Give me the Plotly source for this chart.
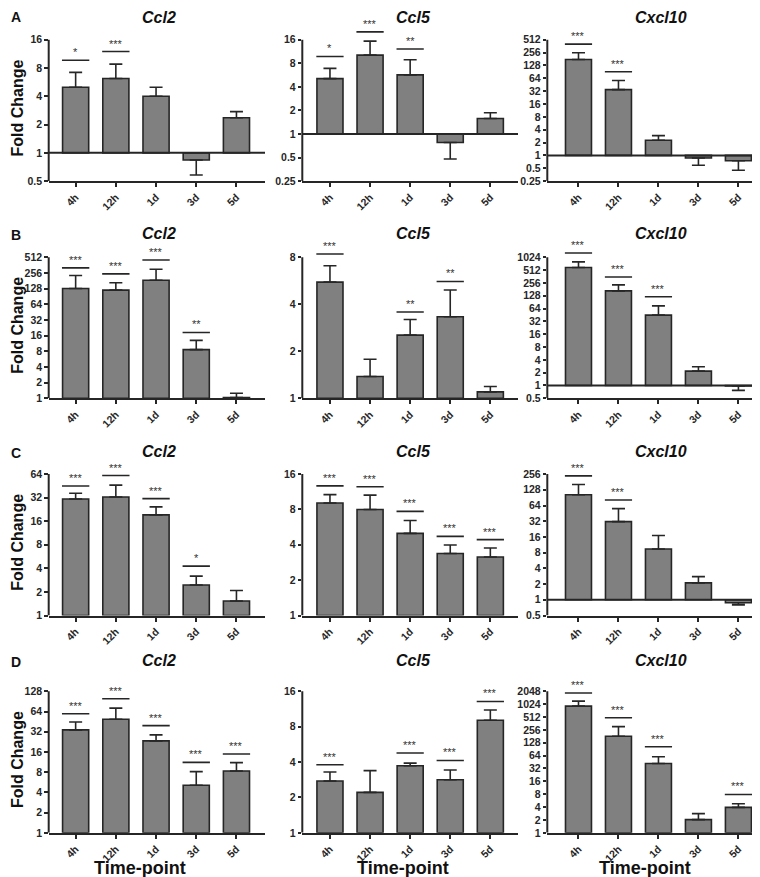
import numpy as np
import plotly.graph_objects as go

timepoints = ["4h", "12h", "1d", "3d", "5d"]
panel_letters = ["A", "B", "C", "D"]
genes = ["Ccl2", "Ccl5", "Cxcl10"]

# ---------------- Row A ----------------
a_ccl2_fc = [5.0, 6.2, 4.0, 0.84, 2.36]
a_ccl2_err = [7.2, 8.8, 5.0, 0.58, 2.75]
a_ccl2_stars = ["*", "***", "", "", ""]
a_ccl2_sig = [9.7, 12.0, None, None, None]
a_ccl2_ticks = [0.5, 1, 2, 4, 8, 16]

a_ccl5_fc = [5.1, 10.2, 5.7, 0.78, 1.58]
a_ccl5_err = [6.9, 15.4, 8.9, 0.48, 1.87]
a_ccl5_stars = ["*", "***", "**", "", ""]
a_ccl5_sig = [9.8, 20.2, 12.2, None, None]
a_ccl5_ticks = [0.25, 0.5, 1, 2, 4, 8, 16]

a_cxcl10_fc = [176, 34.7, 2.27, 0.87, 0.75]
a_cxcl10_err = [255, 57, 2.91, 0.59, 0.45]
a_cxcl10_stars = ["***", "***", "", "", ""]
a_cxcl10_sig = [405, 91, None, None, None]
a_cxcl10_ticks = [0.25, 0.5, 1, 2, 4, 8, 16, 32, 64, 128, 256, 512]

# ---------------- Row B ----------------
b_ccl2_fc = [129, 120, 186, 8.6, 1.03]
b_ccl2_err = [229, 166, 302, 13.0, 1.25]
b_ccl2_stars = ["***", "***", "***", "**", ""]
b_ccl2_sig = [320, 246, 455, 18.4, None]
b_ccl2_ticks = [1, 2, 4, 8, 16, 32, 64, 128, 256, 512]

b_ccl5_fc = [5.55, 1.38, 2.54, 3.33, 1.10]
b_ccl5_err = [7.06, 1.78, 3.2, 4.94, 1.19]
b_ccl5_stars = ["***", "", "**", "**", ""]
b_ccl5_sig = [8.4, None, 3.57, 5.6, None]
b_ccl5_ticks = [1, 2, 4, 8]

b_cxcl10_fc = [591, 167, 45, 2.18, 0.97]
b_cxcl10_err = [798, 230, 74, 2.75, 0.77]
b_cxcl10_stars = ["***", "***", "***", "", ""]
b_cxcl10_sig = [1290, 352, 121, None, None]
b_cxcl10_ticks = [0.5, 1, 2, 4, 8, 16, 32, 64, 128, 256, 512, 1024]

# ---------------- Row C ----------------
c_ccl2_fc = [30.8, 32.6, 19.3, 2.45, 1.53]
c_ccl2_err = [36.4, 46.3, 24.4, 3.18, 2.09]
c_ccl2_stars = ["***", "***", "***", "*", ""]
c_ccl2_sig = [45, 61.4, 31.1, 4.27, None]
c_ccl2_ticks = [1, 2, 4, 8, 16, 32, 64]

c_ccl5_fc = [9.09, 8.0, 5.0, 3.37, 3.15]
c_ccl5_err = [10.7, 10.6, 6.45, 3.99, 3.76]
c_ccl5_stars = ["***", "***", "***", "***", "***"]
c_ccl5_sig = [12.7, 12.5, 7.7, 4.72, 4.43]
c_ccl5_ticks = [1, 2, 4, 8, 16]

c_cxcl10_fc = [103, 31.5, 9.4, 2.11, 0.88]
c_cxcl10_err = [162, 55.8, 17.1, 2.78, 0.80]
c_cxcl10_stars = ["***", "***", "", "", ""]
c_cxcl10_sig = [237, 81.6, None, None, None]
c_cxcl10_ticks = [0.5, 1, 2, 4, 8, 16, 32, 64, 128, 256]

# ---------------- Row D ----------------
d_ccl2_fc = [34.1, 49, 23.4, 5.12, 8.34]
d_ccl2_err = [44.7, 72, 28.7, 8.15, 11.1]
d_ccl2_stars = ["***", "***", "***", "***", "***"]
d_ccl2_sig = [59.4, 99, 39.5, 11.2, 14.9]
d_ccl2_ticks = [1, 2, 4, 8, 16, 32, 64, 128]

d_ccl5_fc = [2.76, 2.21, 3.72, 2.83, 9.08]
d_ccl5_err = [3.29, 3.38, 3.92, 3.42, 11.1]
d_ccl5_stars = ["***", "", "***", "***", "***"]
d_ccl5_sig = [3.8, None, 4.77, 4.13, 13.1]
d_ccl5_ticks = [1, 2, 4, 8, 16]

d_cxcl10_fc = [920, 182, 42, 2.04, 3.94]
d_cxcl10_err = [1203, 305, 60, 2.81, 4.8]
d_cxcl10_stars = ["***", "***", "***", "", "***"]
d_cxcl10_sig = [1875, 493, 103, None, 7.9]
d_cxcl10_ticks = [1, 2, 4, 8, 16, 32, 64, 128, 256, 512, 1024, 2048]

panels = [
    [(a_ccl2_fc, a_ccl2_err, a_ccl2_stars, a_ccl2_sig, a_ccl2_ticks),
     (a_ccl5_fc, a_ccl5_err, a_ccl5_stars, a_ccl5_sig, a_ccl5_ticks),
     (a_cxcl10_fc, a_cxcl10_err, a_cxcl10_stars, a_cxcl10_sig, a_cxcl10_ticks)],
    [(b_ccl2_fc, b_ccl2_err, b_ccl2_stars, b_ccl2_sig, b_ccl2_ticks),
     (b_ccl5_fc, b_ccl5_err, b_ccl5_stars, b_ccl5_sig, b_ccl5_ticks),
     (b_cxcl10_fc, b_cxcl10_err, b_cxcl10_stars, b_cxcl10_sig, b_cxcl10_ticks)],
    [(c_ccl2_fc, c_ccl2_err, c_ccl2_stars, c_ccl2_sig, c_ccl2_ticks),
     (c_ccl5_fc, c_ccl5_err, c_ccl5_stars, c_ccl5_sig, c_ccl5_ticks),
     (c_cxcl10_fc, c_cxcl10_err, c_cxcl10_stars, c_cxcl10_sig, c_cxcl10_ticks)],
    [(d_ccl2_fc, d_ccl2_err, d_ccl2_stars, d_ccl2_sig, d_ccl2_ticks),
     (d_ccl5_fc, d_ccl5_err, d_ccl5_stars, d_ccl5_sig, d_ccl5_ticks),
     (d_cxcl10_fc, d_cxcl10_err, d_cxcl10_stars, d_cxcl10_sig, d_cxcl10_ticks)],
]

# ---------------- layout geometry (pixels) ----------------
W, H = 760, 877
col_left = [40.7, 294.3, 539.3]
col_right = [257, 510, 758]
col_xrange = [(-0.67, 4.71), (-0.69, 4.69), (-0.78, 4.69)]
row_top_tick = [32, 251, 469.3, 688]
row_bottom = [174.3, 393, 611.7, 830.5]
ext_px = 18
title_y = [6.5, 227, 446.5, 657]
title_x = [151, 405, 653]
xtitle_x = [131.5, 395, 637]

FONT = "Liberation Sans, Arial, sans-serif"
INK = "#262626"
BAR = "#808080"

def fmt(t):
    return str(t) if t < 1 else str(int(t))

fig = go.Figure()
layout = {}
shapes = []
annotations = []

for r in range(4):
    for c in range(3):
        k = r * 3 + c + 1
        sfx = "" if k == 1 else str(k)
        xa, ya = f"x{sfx}", f"y{sfx}"
        fc, err, stars, sig, ticks = panels[r][c]
        ymin, ytop = ticks[0], ticks[-1]
        lo, hi = np.log10(ymin), np.log10(ytop)
        hpx = row_bottom[r] - row_top_tick[r]
        hi_ext = hi + (hi - lo) * ext_px / hpx

        fig.add_trace(go.Bar(
            x=timepoints, y=[v - 1 for v in fc], base=1, width=0.65,
            marker=dict(color=BAR, line=dict(color=INK, width=1.6)),
            xaxis=xa, yaxis=ya, showlegend=False, hoverinfo="skip"))
        up = [max(e - v, 0) for v, e in zip(fc, err)]
        dn = [max(v - e, 0) for v, e in zip(fc, err)]
        fig.add_trace(go.Scatter(
            x=timepoints, y=fc, mode="markers",
            marker=dict(size=1, opacity=0),
            error_y=dict(type="data", symmetric=False, array=up, arrayminus=dn,
                         color=INK, thickness=1.6, width=6.5),
            xaxis=xa, yaxis=ya, showlegend=False, hoverinfo="skip"))

        layout[f"xaxis{sfx}"] = dict(
            domain=[col_left[c] / W, col_right[c] / W], anchor=ya,
            type="category", categoryorder="array", categoryarray=timepoints,
            range=list(col_xrange[c]), showline=True, linewidth=2, linecolor=INK,
            ticks="outside", ticklen=4, tickwidth=1.5, tickcolor=INK,
            tickangle=-45, showgrid=False, zeroline=False,
            tickfont=dict(family=FONT, size=10.5, color=INK, weight="bold"))
        layout[f"yaxis{sfx}"] = dict(
            domain=[1 - row_bottom[r] / H, 1 - (row_top_tick[r] - ext_px) / H],
            anchor=xa, type="log", range=[lo, hi_ext],
            tickmode="array", tickvals=ticks, ticktext=[fmt(t) for t in ticks],
            ticks="outside", ticklen=3.5, tickwidth=1.5, tickcolor=INK,
            showline=False, showgrid=False, zeroline=False,
            tickfont=dict(family=FONT, size=10.5, color=INK, weight="bold"))

        # y axis line (only up to top tick)
        shapes.append(dict(type="line", xref=f"{xa} domain", yref=ya,
                           x0=0, x1=0, y0=ymin, y1=ytop,
                           line=dict(color=INK, width=2)))
        # baseline at 1
        if ymin < 1:
            shapes.append(dict(type="line", xref=f"{xa} domain", yref=ya,
                               x0=0, x1=1, y0=1, y1=1,
                               line=dict(color=INK, width=2)))
        # significance bars and stars
        for i, (s, lvl) in enumerate(zip(stars, sig)):
            if lvl is None:
                continue
            shapes.append(dict(type="line", xref=xa, yref=ya,
                               x0=i - 0.34, x1=i + 0.34, y0=lvl, y1=lvl,
                               line=dict(color=INK, width=1.6)))
            annotations.append(dict(xref=xa, yref=ya, x=timepoints[i],
                                    y=np.log10(lvl), text=s, showarrow=False,
                                    yanchor="bottom", xanchor="center", yshift=0,
                                    font=dict(family=FONT, size=11, color="#333333")))
        # gene title
        if r == 0:
            ty, tanchor = 1.0, "top"
        else:
            ty, tanchor = 1 - title_y[r] / H, "middle"
        annotations.append(dict(xref="paper", yref="paper",
                                x=title_x[c] / W, y=ty, borderpad=0,
                                text=f"<b><i>{genes[c]}</i></b>", showarrow=False,
                                xanchor="center", yanchor=tanchor,
                                font=dict(family=FONT, size=16, color="#111")))
    # panel letter
    if r == 0:
        ly, lanchor = 1.0, "top"
    else:
        ly, lanchor = 1 - (title_y[r] + 1.5) / H, "middle"
    annotations.append(dict(xref="paper", yref="paper", x=8 / W,
                            y=ly, text=f"<b>{panel_letters[r]}</b>", borderpad=0,
                            showarrow=False, xanchor="center", yanchor=lanchor,
                            font=dict(family=FONT, size=14, color="#111")))
    # y axis title
    annotations.append(dict(xref="paper", yref="paper", x=9.5 / W,
                            y=1 - ((row_top_tick[r] + row_bottom[r]) / 2 - 2.5) / H,
                            text="<b>Fold Change</b>", textangle=-90, showarrow=False,
                            xanchor="center", yanchor="middle",
                            font=dict(family=FONT, size=16, color="#111")))

for c in range(3):
    annotations.append(dict(xref="paper", yref="paper", x=xtitle_x[c] / W,
                            y=0, text="<b>Time-point</b>", showarrow=False,
                            xanchor="center", yanchor="bottom", borderpad=0,
                            font=dict(family=FONT, size=18, color="#111")))

fig.update_layout(
    width=W, height=H, margin=dict(l=0, r=0, t=0, b=0),
    paper_bgcolor="white", plot_bgcolor="white",
    barmode="overlay", shapes=shapes, annotations=annotations,
    font=dict(family=FONT, color=INK), **layout)

fig.write_html("out.html", include_plotlyjs=True, config={"displayModeBar": False})
